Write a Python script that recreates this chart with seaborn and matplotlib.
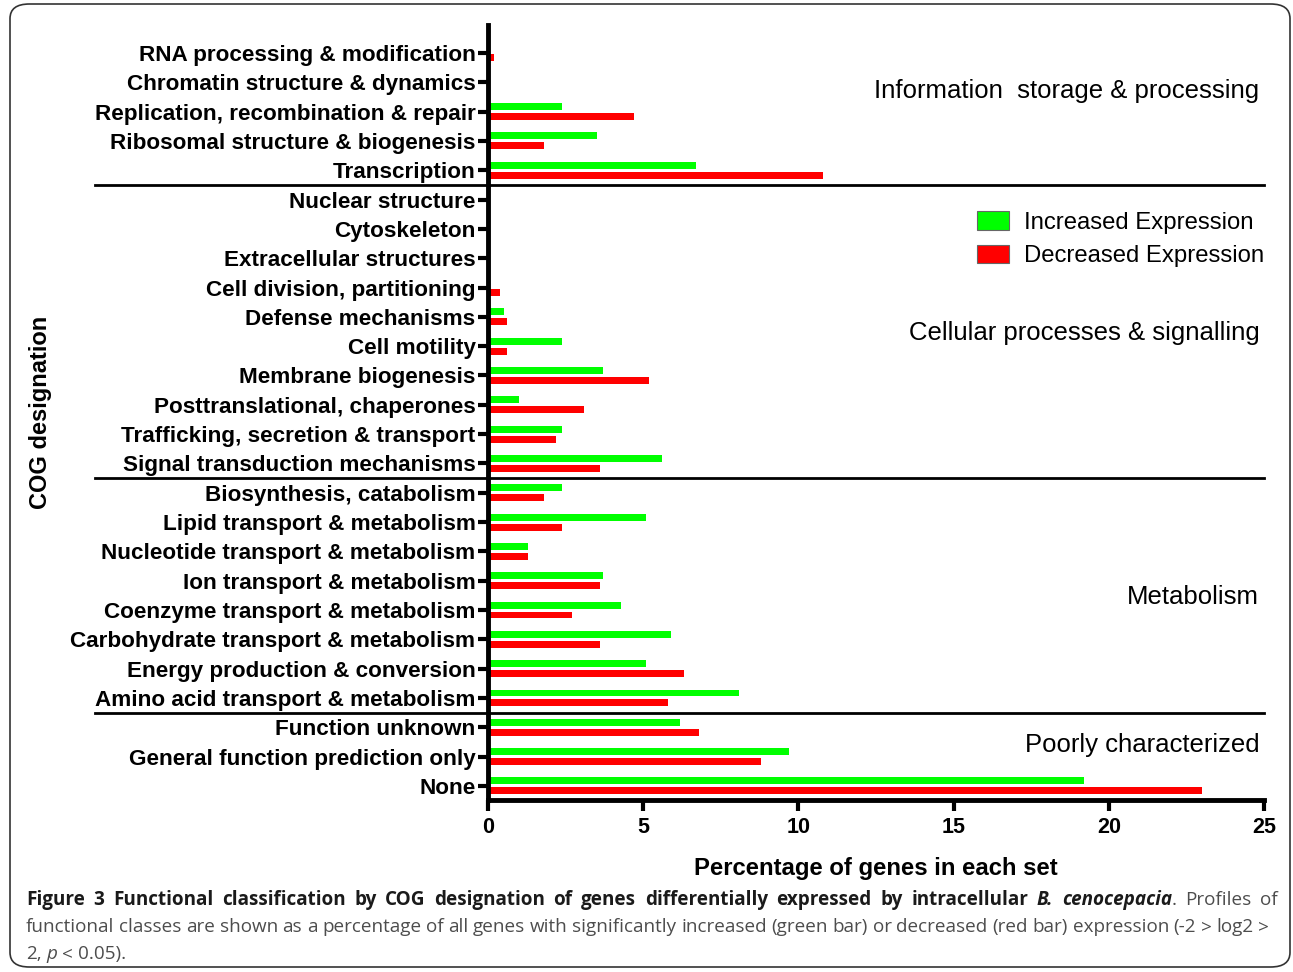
import numpy as np
import pandas as pd
import seaborn as sns
from matplotlib import pyplot as plt
from matplotlib.patches import Patch, FancyBboxPatch
import matplotlib.transforms as mtransforms

categories = ['RNA processing & modification', 'Chromatin structure & dynamics',
              'Replication, recombination & repair', 'Ribosomal structure & biogenesis',
              'Transcription', 'Nuclear structure', 'Cytoskeleton', 'Extracellular structures',
              'Cell division, partitioning', 'Defense mechanisms', 'Cell motility',
              'Membrane biogenesis', 'Posttranslational, chaperones',
              'Trafficking, secretion & transport', 'Signal transduction mechanisms',
              'Biosynthesis, catabolism', 'Lipid transport & metabolism',
              'Nucleotide transport & metabolism', 'Ion transport & metabolism',
              'Coenzyme transport & metabolism', 'Carbohydrate transport & metabolism',
              'Energy production & conversion', 'Amino acid transport & metabolism',
              'Function unknown', 'General function prediction only', 'None']
increased = [0, 0, 2.4, 3.5, 6.7, 0, 0, 0, 0, 0.5, 2.4, 3.7, 1.0, 2.4, 5.6,
             2.4, 5.1, 1.3, 3.7, 4.3, 5.9, 5.1, 8.1, 6.2, 9.7, 19.2]
decreased = [0.2, 0, 4.7, 1.8, 10.8, 0, 0, 0, 0.4, 0.6, 0.6, 5.2, 3.1, 2.2, 3.6,
             1.8, 2.4, 1.3, 3.6, 2.7, 3.6, 6.3, 5.8, 6.8, 8.8, 23.0]
series = ['Increased Expression', 'Decreased Expression']
colors = ['#00ff00', '#ff0000']
groups = ['Information  storage & processing', 'Cellular processes & signalling',
          'Metabolism', 'Poorly characterized']
group_y = [1.3, 9.55, 18.55, 23.6]
separators = [4.5, 14.5, 22.5]
xticks = [0, 5, 10, 15, 20, 25]

df = pd.DataFrame({
    'category': categories * 2,
    'pct': increased + decreased,
    'expr': [series[0]] * len(categories) + [series[1]] * len(categories),
})

plt.rcParams['font.family'] = ['Liberation Sans', 'DejaVu Sans']
cap_font = ['Open Sans', 'DejaVu Sans']

fig = plt.figure(figsize=(12.93, 9.72), dpi=100)
ax = fig.add_axes([488 / 1293, 1 - 800 / 972, 776 / 1293, 775 / 972])

sns.barplot(data=df, y='category', x='pct', hue='expr', order=categories,
            hue_order=series, palette=colors, orient='h', width=0.68, gap=0.3,
            saturation=1, legend=False, ax=ax)

ax.set_xlim(0, 25)
ax.set_ylim(25.48, -0.955)
ax.set_xticks(xticks)
ax.set_xticklabels([str(t) for t in xticks], fontsize=15.5, fontweight='bold')
ax.set_yticks(range(len(categories)))
ax.set_yticklabels(categories, fontsize=16.2, fontweight='bold')
for s in ['top', 'right']:
    ax.spines[s].set_visible(False)
for s in ['left', 'bottom']:
    ax.spines[s].set_linewidth(3.5)
ax.tick_params(axis='y', length=7, width=3, pad=2)
ax.tick_params(axis='x', length=8, width=3, pad=4)
ax.set_ylabel('COG designation', fontsize=17, fontweight='bold')
ax.set_xlabel('Percentage of genes in each set', fontsize=17.2, fontweight='bold',
              labelpad=14)
ax.yaxis.set_label_coords(-0.562, 0.5)

# group separators running under the labels
trans = mtransforms.blended_transform_factory(ax.transAxes, ax.transData)
for yv in separators:
    ax.plot([-0.506, 1.0], [yv, yv], color='black', lw=2, transform=trans, clip_on=False)

for name, yv in zip(groups, group_y):
    ax.text(0.994, yv, name, transform=trans, ha='right', va='center', fontsize=18.5)

handles = [Patch(facecolor=c, edgecolor='#666666', lw=0.8) for c in colors]
ax.legend(handles, series, loc='center right', bbox_to_anchor=(1.0, 0.7235),
          frameon=False, fontsize=17.2, handlelength=1.34, handleheight=0.8,
          labelspacing=0.45, handletextpad=0.63, borderaxespad=0, borderpad=0)

# outer rounded frame
fig.patches.append(FancyBboxPatch((10 / 1293, 5 / 972), 1280 / 1293, 963 / 972,
                                  boxstyle='round,pad=0,rounding_size=0.015',
                                  transform=fig.transFigure, fill=False,
                                  edgecolor='#333333', lw=1.2))

# caption (justified like the journal layout)
fig.canvas.draw()
renderer = fig.canvas.get_renderer()
dark, grey = '#1a1a1a', '#4d4d4d'
B, BI, N, I = ('bold', 'normal', dark), ('bold', 'italic', dark), ('normal', 'normal', grey), ('normal', 'italic', grey)
bold_part = 'Figure 3 Functional classification by COG designation of genes differentially expressed by intracellular'
plain_part = 'functional classes are shown as a percentage of all genes with significantly increased (green bar) or decreased (red bar) expression (-2 > log2 >'
line1 = [[(w, B)] for w in bold_part.split()] + [[('B.', BI)], [('cenocepacia', BI), ('.', N)],
                                                  [('Profiles', N)], [('of', N)]]
line2 = [[(w, N)] for w in plain_part.split()]
line3 = [[('2,', N)], [('p', I)], [('<', N)], [('0.05).', N)]]


def seg_width(txt, st, size):
    t = fig.text(0, 0, txt, fontsize=size, fontweight=st[0], fontstyle=st[1], family=cap_font)
    wd = t.get_window_extent(renderer).width
    t.remove()
    return wd


def natural(words, size):
    sp = seg_width('a a', N, size) - seg_width('aa', N, size)
    return sum(seg_width(txt, st, size) for wd in words for txt, st in wd) + sp * (len(words) - 1)


cap_size = min(10 * 1243 / natural(line2, 10), 10 * 1252 / natural(line1, 10))
space = seg_width('a a', N, cap_size) - seg_width('aa', N, cap_size)
for words, ypix, right in [(line1, 900, 1278), (line2, 927, 1269), (line3, 954, None)]:
    widths = [sum(seg_width(txt, st, cap_size) for txt, st in wd) for wd in words]
    gap = space if right is None else (right - 26 - sum(widths)) / (len(words) - 1)
    x = 26
    for wd in words:
        for txt, st in wd:
            t = fig.text(x / 1293, 1 - ypix / 972, txt, fontsize=cap_size, fontweight=st[0],
                         fontstyle=st[1], color=st[2], family=cap_font, va='center', ha='left')
            x += t.get_window_extent(renderer).width
        x += gap

fig.savefig('out.png', dpi=100)
